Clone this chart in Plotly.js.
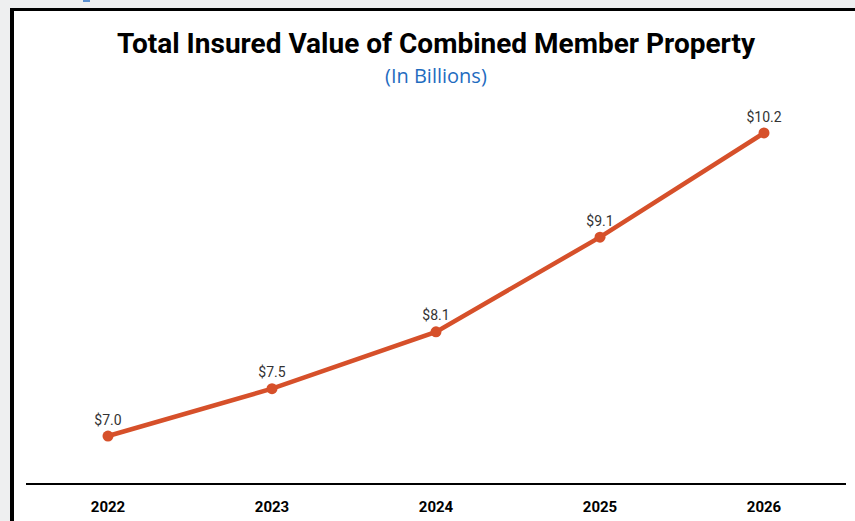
<!DOCTYPE html>
<html>
<head>
<meta charset="utf-8">
<script src="https://cdn.plot.ly/plotly-3.0.1.min.js"></script>
<style>
html,body{margin:0;padding:0;width:855px;height:521px;overflow:hidden;background:#eeeff0;}
#frame{position:absolute;left:10px;top:8px;width:845px;height:513px;background:#ffffff;border-left:4px solid #000;border-top:3px solid #000;box-sizing:border-box;}
#mark{position:absolute;left:83px;top:0;width:7px;height:2px;background:#5b8fd0;}
#chart{position:absolute;left:0;top:0;width:855px;height:521px;}
</style>
</head>
<body>
<div id="frame"></div>
<div id="mark"></div>
<div id="chart"></div>
<script>
const years = ["2022","2023","2024","2025","2026"];
const values = [7.0, 7.5, 8.1, 9.1, 10.2];
const labels = ["$7.0","$7.5","$8.1","$9.1","$10.2"];

const trace = {
  x: years,
  y: values,
  type: "scatter",
  mode: "lines+markers+text",
  text: labels,
  textposition: "top center",
  textfont: {family: "Roboto, 'Liberation Sans', sans-serif", size: 14, color: "#333333"},
  line: {color: "#d6502a", width: 4.5},
  marker: {color: "#d6502a", size: 11},
  cliponaxis: false,
  hoverinfo: "none"
};

const layout = {
  width: 855, height: 521,
  paper_bgcolor: "rgba(0,0,0,0)",
  plot_bgcolor: "rgba(0,0,0,0)",
  margin: {l: 26, r: 9, t: 100, b: 38},
  showlegend: false,
  xaxis: {
    type: "category",
    range: [-0.5, 4.5],
    showgrid: false, zeroline: false,
    showline: true, linecolor: "#000000", linewidth: 1.5,
    ticks: "",
    ticklabelstandoff: 9,
    tickfont: {family: "Roboto, 'Liberation Sans', sans-serif", size: 15, color: "#000000", weight: "bold"},
    fixedrange: true
  },
  yaxis: {
    range: [6.504, 10.548],
    showgrid: false, zeroline: false, showline: false,
    showticklabels: false, ticks: "",
    fixedrange: true
  },
  annotations: [
    {text: "<b>Total Insured Value of Combined Member Property</b>", xref: "paper", yref: "paper",
     x: 0.5, y: 1, xanchor: "center", yanchor: "middle", yshift: 57, showarrow: false,
     font: {family: "Roboto, sans-serif", size: 28, color: "#000000"}},
    {text: "(In Billions)", xref: "paper", yref: "paper",
     x: 0.5, y: 1, xanchor: "center", yanchor: "middle", yshift: 25, showarrow: false,
     font: {family: "'Open Sans', sans-serif", size: 20, color: "#1f6cbf"}}
  ]
};

Plotly.newPlot("chart", [trace], layout, {staticPlot: true, displayModeBar: false});
</script>
</body>
</html>
